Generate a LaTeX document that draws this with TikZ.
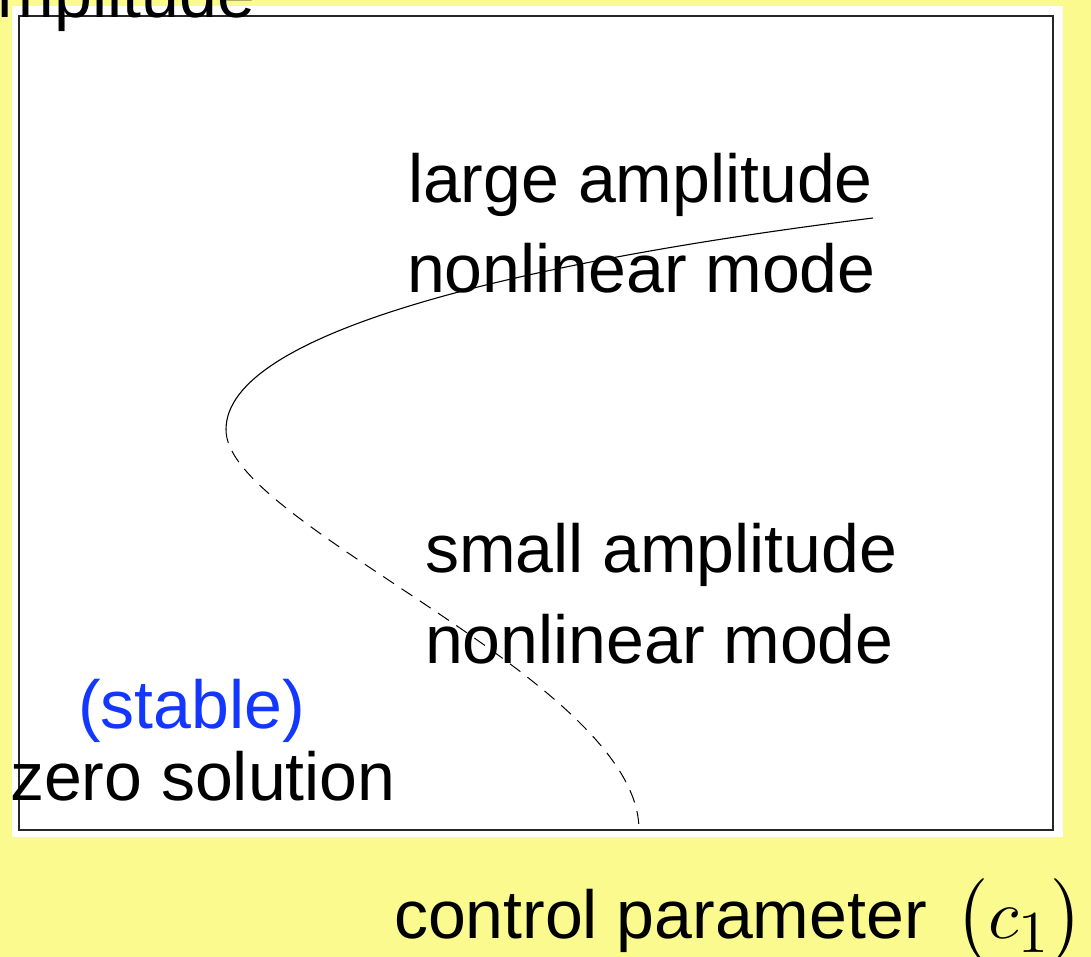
\documentclass[tikz,border=0pt]{standalone}
\usepackage{graphicx}
\usepackage{fontspec}
\setmainfont{Liberation Sans}
\definecolor{bgyellow}{RGB}{250,250,143}
\definecolor{stableblue}{RGB}{20,55,255}
\newcommand{\bigmath}[1]{\scalebox{7.0}{\fontsize{10}{12}\selectfont$#1$}}
\begin{document}
\begin{tikzpicture}[x=1pt,y=-1pt,
  lbl/.style={inner sep=0pt, outer sep=0pt, font=\fontsize{68}{80}\selectfont},
  branch/.style={line width=1.1pt, black},
  unstable/.style={line width=1pt, black, dash pattern=on 13pt off 9pt}]
\useasboundingbox (0,0) rectangle (1091,957);
\clip (0,0) rectangle (1091,957);
\fill[bgyellow] (0,0) rectangle (1091,957);
\fill[white] (12,6) rectangle (1063,837);
\draw[line width=1.3pt, black!85] (19,16) rectangle (1053,830);
\coordinate (top) at (873,218);
\coordinate (turn) at (226,430);
\coordinate (bif) at (639,830);
\draw[branch] (top) .. controls (520,262) and (225,332) .. (turn);
\draw[unstable] (turn) .. controls (226,525) and (639,680) .. (bif);
\node[lbl, anchor=base east] (ylabel) at (255,18) {amplitude};
\node[lbl, anchor=base west] (large1) at (408,203) {large amplitude};
\node[lbl, anchor=base west] (large2) at (407,293) {nonlinear mode};
\node[lbl, anchor=base west] (small1) at (425,572) {small amplitude};
\node[lbl, anchor=base west] (small2) at (425,663) {nonlinear mode};
\node[lbl, anchor=base west, text=stableblue] (stable) at (78,728) {(stable)};
\node[lbl, anchor=base west] (zero) at (10,800) {zero solution};
\node[lbl, anchor=base west] (xlabel) at (394,938) {control parameter\hspace{29pt}\bigmath{\bigl(c_{\scalebox{0.85}{$1$}}\bigr)}};
\end{tikzpicture}
\end{document}
